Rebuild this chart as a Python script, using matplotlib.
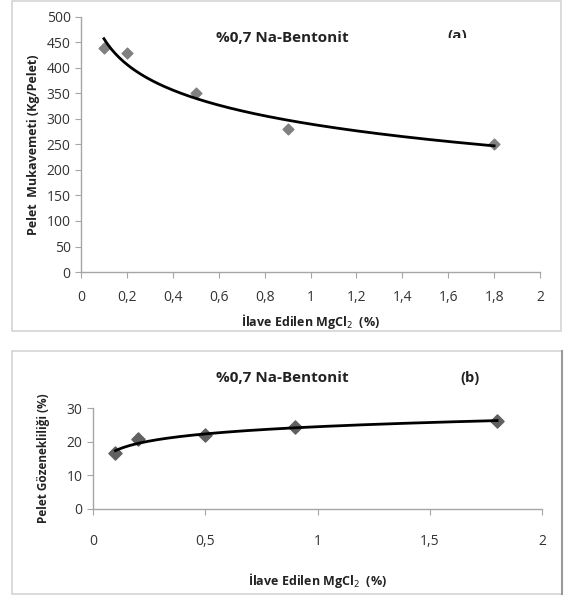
import numpy as np
import matplotlib.pyplot as plt
from matplotlib.patches import Rectangle

plt.rcParams['font.family'] = ['Open Sans', 'DejaVu Sans']

# data
mgcl2 = [0.1, 0.2, 0.5, 0.9, 1.8]
strength = [440, 430, 350, 280, 250]      # Kg/Pelet
porosity = [16.5, 20.7, 22.0, 24.3, 26.0]  # %

title = "%0,7 Na-Bentonit"
xlab = "İlave Edilen MgCl$_2$  (%)"

fig = plt.figure(figsize=(5.65, 5.99), dpi=100)

# panel frames
W, H = 565, 599
def frame(x0, y0, x1, y1, col='#d4d4d4'):
    r = Rectangle((x0 / W, 1 - y1 / H), (x1 - x0) / W, (y1 - y0) / H,
                  transform=fig.transFigure, fill=False, edgecolor=col, lw=1.2)
    fig.add_artist(r)
frame(12, 0.5, 561, 331)
frame(12, 351, 562, 594)
fig.add_artist(plt.Line2D([562 / W, 562 / W], [1 - 594 / H, 1 - 351 / H],
                          transform=fig.transFigure, color='#9a9a9a', lw=1.5))


def log_fit(x, y):
    # excel style logarithmic trendline
    b, a = np.polyfit(np.log(x), y, 1)
    xs = np.linspace(min(x), max(x), 200)
    return xs, a + b * np.log(xs)


def style(ax):
    for s in ['top', 'right']:
        ax.spines[s].set_visible(False)
    for s in ['left', 'bottom']:
        ax.spines[s].set_color('#a6a6a6')
        ax.spines[s].set_linewidth(1.0)
    ax.tick_params(colors='#a6a6a6', labelcolor='#333333', labelsize=10,
                   length=4, direction='out')


# (a)
ax1 = fig.add_axes([81 / W, 1 - 272 / H, 459 / W, 255 / H])
ax1.scatter(mgcl2, strength, marker='D', s=30, color='#808080', zorder=3)
xs, ys = log_fit(mgcl2, strength)
ax1.plot(xs, ys, color='black', lw=2, zorder=4)
ax1.set_xlim(0, 2)
ax1.set_ylim(0, 500)
ax1.set_xticks(np.arange(0, 2.01, 0.2))
ax1.set_xticklabels(['0', '0,2', '0,4', '0,6', '0,8', '1', '1,2', '1,4', '1,6', '1,8', '2'])
ax1.set_yticks(range(0, 501, 50))
style(ax1)
ax1.tick_params(axis='x', pad=9)
ax1.set_xlabel(xlab, fontsize=9, fontweight='bold', color='#222222', labelpad=5)
ax1.set_ylabel("Pelet  Mukavemeti (Kg/Pelet)", fontsize=9, fontweight='bold',
               color='#222222', labelpad=5)
fig.text(282 / W, 1 - 38 / H, title, ha='center', va='center', fontsize=11,
         fontweight='bold', color='#222222')
ta = fig.text(457 / W, 1 - 36 / H, "(a)", ha='center', va='center', fontsize=11,
              fontweight='bold', color='#222222')
clip = Rectangle((0, 1 - 38 / H), 1, 38 / H, transform=fig.transFigure)
ta.set_clip_path(clip)

# (b)
ax2 = fig.add_axes([93 / W, 1 - 509 / H, 449 / W, 101 / H])
ax2.scatter(mgcl2, porosity, marker='D', s=45, color='#606060', zorder=3)
xs, ys = log_fit(mgcl2, porosity)
ax2.plot(xs, ys, color='black', lw=2, zorder=4)
ax2.set_xlim(0, 2)
ax2.set_ylim(0, 30)
ax2.set_xticks([0, 0.5, 1, 1.5, 2])
ax2.set_xticklabels(['0', '0,5', '1', '1,5', '2'])
ax2.set_yticks([0, 10, 20, 30])
style(ax2)
ax2.tick_params(axis='x', pad=14)
ax2.set_xlabel(xlab, fontsize=9, fontweight='bold', color='#222222', labelpad=16)
ax2.set_ylabel("Pelet Gözenekliliği (%)", fontsize=8.5, fontweight='bold',
               color='#222222', labelpad=12)
fig.text(282 / W, 1 - 378 / H, title, ha='center', va='center', fontsize=11,
         fontweight='bold', color='#222222')
fig.text(470 / W, 1 - 378 / H, "(b)", ha='center', va='center', fontsize=10.5,
         fontweight='bold', color='#222222')

fig.savefig('out.png', dpi=100)
